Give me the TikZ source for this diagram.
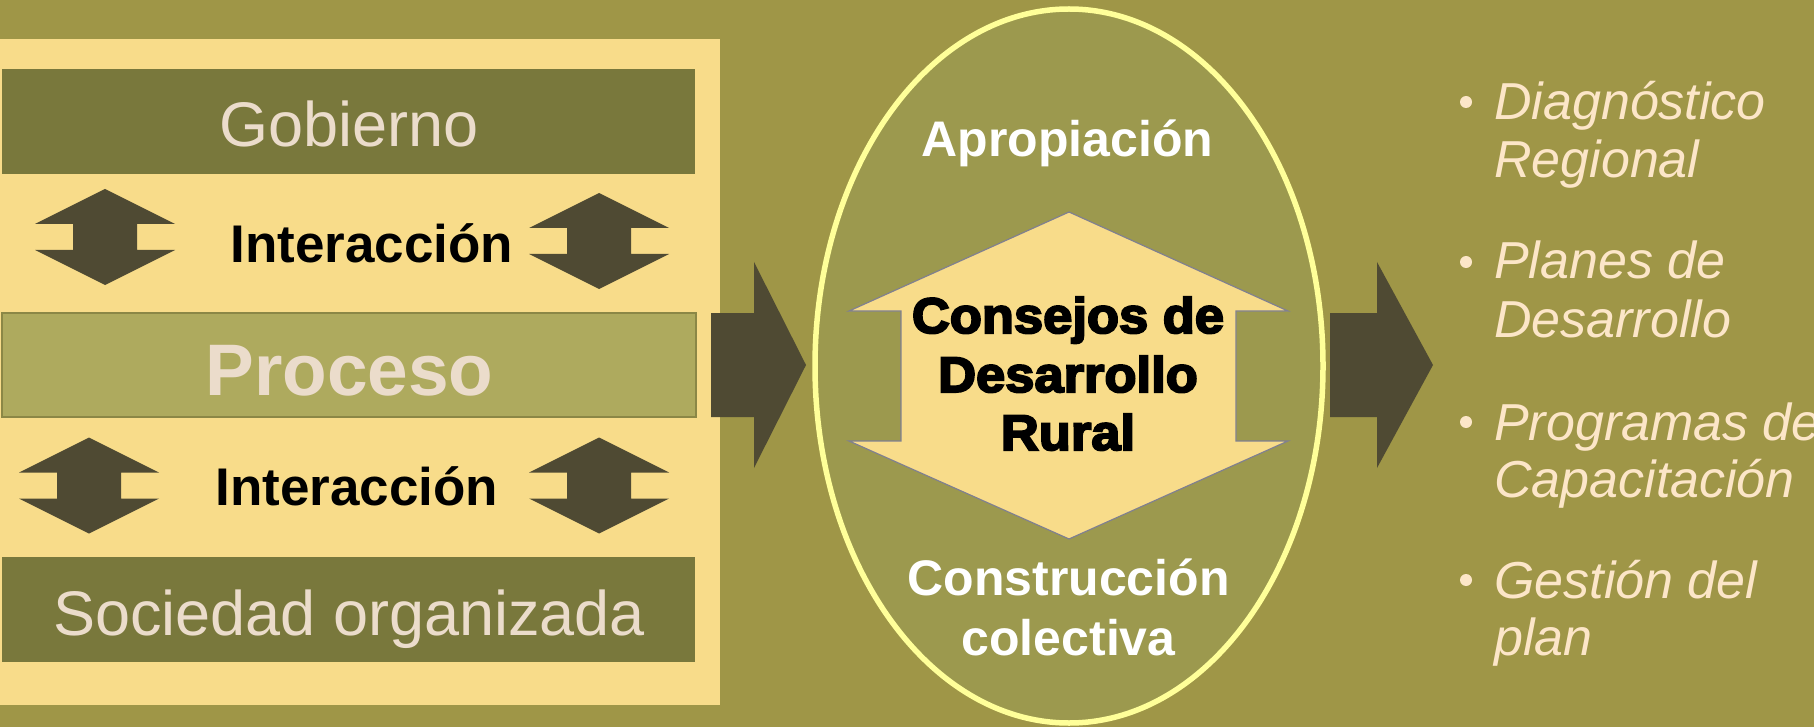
\documentclass[tikz,border=0pt]{standalone}
\usepackage{fontspec}
\setmainfont{Liberation Sans}
\newfontface\heavyfont{Liberation Sans Bold}[FakeBold=4,FakeStretch=1.05]
\usetikzlibrary{shapes.geometric}
\definecolor{bg}{HTML}{9F9647}
\definecolor{pale}{HTML}{F8DC8A}
\definecolor{darkolive}{HTML}{79783C}
\definecolor{procfill}{HTML}{AEAA5E}
\definecolor{procline}{HTML}{8B8746}
\definecolor{arrowdark}{HTML}{4F4A33}
\definecolor{ellfill}{HTML}{9C994E}
\definecolor{ellline}{HTML}{FFFF99}
\definecolor{lighttext}{HTML}{EBDCCB}
\definecolor{bullettext}{HTML}{FCE6C8}
\definecolor{consline}{HTML}{80808F}
\tikzset{
  panelbox/.style={fill=pale, draw=none, minimum width=720, minimum height=666, inner sep=0, outer sep=0},
  darkbox/.style={fill=darkolive, draw=none, minimum width=693, minimum height=105, inner sep=0, outer sep=0},
  procbox/.style={fill=procfill, draw=procline, line width=1.5, minimum width=694, minimum height=104, inner sep=0, outer sep=0},
  lighttxt/.style={text=lighttext, inner sep=0, anchor=base},
  interact/.style={text=black, inner sep=0, anchor=base, font=\fontsize{53}{60}\selectfont\bfseries},
  whitetxt/.style={text=white, inner sep=0, anchor=base, font=\fontsize{50}{58}\selectfont\bfseries},
  heavytxt/.style={text=black, inner sep=0, anchor=base, font=\fontsize{50}{58}\selectfont\heavyfont},
  bullettxt/.style={text=bullettext, inner sep=0, anchor=base west, font=\fontsize{52}{58}\selectfont\itshape},
  bulletdot/.style={circle, fill=bullettext, draw=none, minimum size=12, inner sep=0},
  blockarrow/.style={fill=arrowdark, draw=none},
  updown/.pic={\fill[arrowdark] (0,-48) -- (70,-13) -- (32,-13) -- (32,13) -- (70,13) -- (0,48)
      -- (-70,13) -- (-32,13) -- (-32,-13) -- (-70,-13) -- cycle;}
}
\begin{document}
\begin{tikzpicture}[x=1pt,y=-1pt]
\fill[bg] (0,0) rectangle (1814,727);
\useasboundingbox (0,0) rectangle (1814,727);

% left panel
\node[panelbox] (panel) at (360,372) {};
\node[darkbox] (gob) at (348.5,121.5) {};
\node[procbox] (proc) at (349,365) {};
\node[darkbox] (soc) at (348.5,609.5) {};
\node[lighttxt, font=\fontsize{63}{70}\selectfont] (gobt) at (349,147) {Gobierno};
\node[lighttxt, font=\fontsize{73}{80}\selectfont\bfseries] (proct) at (349.5,395) {Proceso};
\node[lighttxt, font=\fontsize{63}{70}\selectfont] (soct) at (349,635) {Sociedad organizada};
\node[interact] (int1) at (372,262) {Interacción};
\node[interact] (int2) at (357,505) {Interacción};
\pic (ua) at (105,237) {updown};
\pic (ub) at (599,241) {updown};
\pic (uc) at (89,485.5) {updown};
\pic (ud) at (599,485.5) {updown};

% arrow to ellipse
\fill[blockarrow] (711,313) -- (754,313) -- (754,262) -- (806,365) -- (754,468) -- (754,417) -- (711,417) -- cycle;

% ellipse
\node[ellipse, fill=ellfill, draw=ellline, line width=5.5, minimum width=508, minimum height=714, inner sep=0] (ell) at (1069,366) {};
\fill[pale, draw=consline, line width=1.2] (1069,212) -- (1288,311) -- (1236,311) -- (1236,441) -- (1288,441)
   -- (1069,539) -- (849,441) -- (901,441) -- (901,311) -- (849,311) -- cycle;
\node[whitetxt] (apro) at (1067.5,157) {Apropiación};
\node[heavytxt] (cons1) at (1068,333) {Consejos de};
\node[heavytxt] (cons2) at (1068,392) {Desarrollo};
\node[heavytxt] (cons3) at (1068,450) {Rural};
\node[whitetxt] (constr1) at (1068.5,595) {Construcción};
\node[whitetxt] (constr2) at (1068.5,655) {colectiva};

% arrow to list
\fill[blockarrow] (1330,313) -- (1377,313) -- (1377,262) -- (1433,365) -- (1377,468) -- (1377,417) -- (1330,417) -- cycle;

% bullet list
\node[bulletdot] (d1) at (1466,102) {};
\node[bullettxt] (b1a) at (1494,120) {Diagnóstico};
\node[bullettxt] (b1b) at (1494,178) {Regional};
\node[bulletdot] (d2) at (1466,262) {};
\node[bullettxt] (b2a) at (1494,278) {Planes de};
\node[bullettxt] (b2b) at (1494,337) {Desarrollo};
\node[bulletdot] (d3) at (1466,422) {};
\node[bullettxt] (b3a) at (1494,440) {Programas de};
\node[bullettxt] (b3b) at (1494,497) {Capacitación};
\node[bulletdot] (d4) at (1466,580) {};
\node[bullettxt] (b4a) at (1494,598) {Gestión del};
\node[bullettxt] (b4b) at (1494,655) {plan};
\end{tikzpicture}
\end{document}
